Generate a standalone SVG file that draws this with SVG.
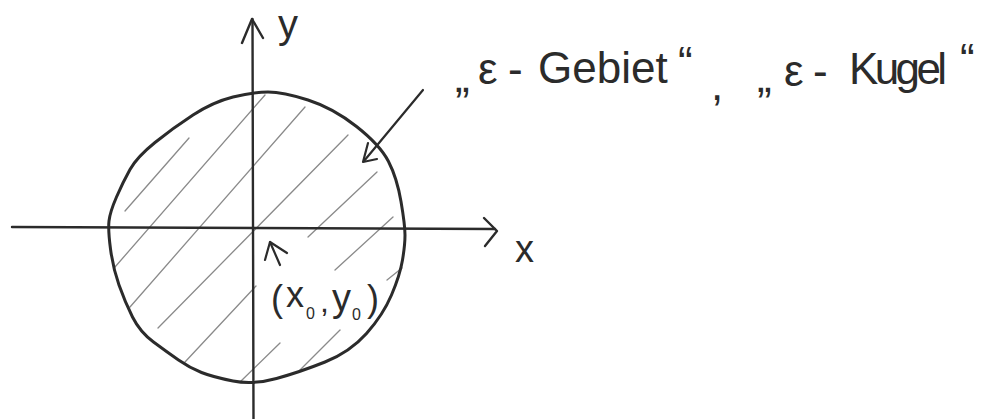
<svg xmlns="http://www.w3.org/2000/svg" width="993" height="419" viewBox="0 0 993 419">
<style>
.ink{fill:none;stroke:#2b2b2b;stroke-linecap:round;stroke-linejoin:round}
.axis{stroke-width:2.4}
.circ{stroke-width:3}
.hatch{fill:none;stroke:#8a8a8a;stroke-width:1.3;stroke-linecap:round}
.t{font-family:"Liberation Sans",Arial,sans-serif;fill:#2b2b2b}
</style>
<rect width="993" height="419" fill="#ffffff"/>
<g id="hatching">
<line class="hatch" x1="125" y1="211" x2="189" y2="138"/>
<line class="hatch" x1="115" y1="267" x2="265" y2="95"/>
<line class="hatch" x1="130" y1="307" x2="305" y2="107"/>
<line class="hatch" x1="158" y1="328" x2="348" y2="135"/>
<line class="hatch" x1="185" y1="362" x2="256" y2="286"/>
<line class="hatch" x1="308" y1="237" x2="377" y2="172"/>
<line class="hatch" x1="335" y1="270" x2="393" y2="217"/>
<line class="hatch" x1="298" y1="372" x2="340" y2="330"/>
<line class="hatch" x1="387" y1="280" x2="402" y2="268"/>
<line class="hatch" x1="240" y1="382" x2="280" y2="343"/>
</g>
<g id="circle">
<path class="ink circ" d="M 268,92 Q 283,92 308,100 Q 333,108 356.5,126.5 Q 380,145 388.5,161.5 Q 397,178 401,201.5 Q 405,225 405,235 Q 405,245 402.5,260 Q 400,275 391.5,295 Q 383,315 366.5,333.5 Q 350,352 325,362 Q 300,372 276.5,378.5 Q 253,385 233,381 Q 213,377 201.5,372.5 Q 190,368 178.5,360 Q 167,352 153.5,342 Q 140,332 132.5,317 Q 125,302 119,285 Q 113,268 110.5,249 Q 108,230 109,221 Q 110,212 116.5,197 Q 123,182 130,169.5 Q 137,157 155,142.5 Q 173,128 193,115 Q 213,102 233,97 Q 253,92 268,92 Z"/>
</g>
<g id="x-axis">
<line class="ink axis" x1="12" y1="227" x2="495" y2="229"/>
<polyline class="ink axis" points="484,218 497,231 485,246"/>
<text class="t" x="515" y="262" font-size="38">x</text>
</g>
<g id="y-axis">
<line class="ink axis" x1="252.5" y1="19" x2="253.5" y2="419"/>
<polyline class="ink axis" points="242,43 252,19 263,38"/>
<text class="t" x="278" y="38" font-size="40">y</text>
</g>
<g id="center-label">
<text class="t" x="271" y="311" font-size="36">(</text>
<text class="t" x="286" y="307" font-size="36">x</text>
<text class="t" x="306" y="319" font-size="16">0</text>
<text class="t" x="320" y="312" font-size="32">,</text>
<text class="t" x="332" y="311" font-size="38">y</text>
<text class="t" x="352" y="320" font-size="16">0</text>
<text class="t" x="367" y="311" font-size="36">)</text>
</g>
<g id="region-label">
<text class="t" font-size="44"><tspan x="455" y="92">„</tspan><tspan x="478" y="84">ε</tspan><tspan x="508" y="84">-</tspan><tspan x="538" y="83">Gebiet</tspan><tspan x="678" y="78">“</tspan></text>
<text class="t" font-size="44"><tspan x="711" y="100">,</tspan><tspan x="757" y="92">„</tspan><tspan x="784" y="86">ε</tspan><tspan x="813" y="86">-</tspan><tspan x="849" y="84" textLength="98" lengthAdjust="spacing">Kugel</tspan><tspan x="960" y="75">“</tspan></text>
</g>
<g id="connectors">
<line class="ink" stroke-width="2.2" x1="423" y1="90" x2="364" y2="161"/>
<polyline class="ink" stroke-width="2.2" points="368,143 363,162 377,159"/>
<line class="ink" stroke-width="2.2" x1="270" y1="242" x2="280" y2="265"/>
<polyline class="ink" stroke-width="2.2" points="265,260 270,242 287,253"/>
</g>
</svg>
